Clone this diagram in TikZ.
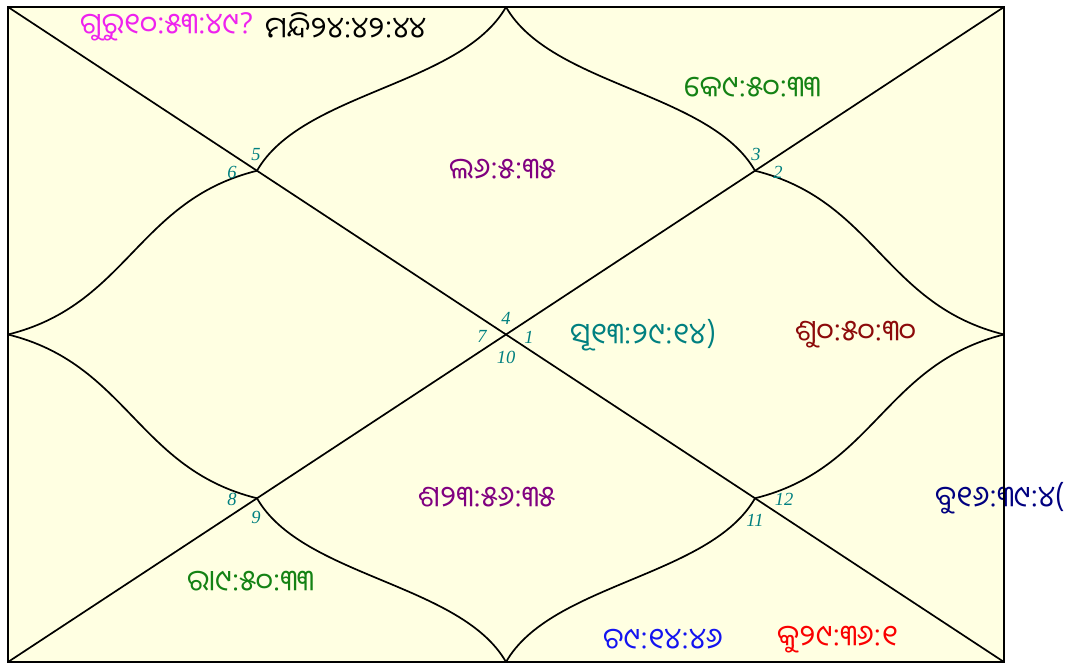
\documentclass[tikz,border=0pt]{standalone}
\usepackage{fontspec}
\usetikzlibrary{calc}
\newfontfamily\od[Script=Oriya]{Noto Sans Oriya UI}
\newfontfamily\hn{Liberation Serif}
\definecolor{cream}{RGB}{255,255,226}
\definecolor{cGuru}{RGB}{238,34,238}
\definecolor{cGreen}{RGB}{20,130,20}
\definecolor{cPurple}{RGB}{128,0,128}
\definecolor{cTeal}{RGB}{0,128,128}
\definecolor{cMaroon}{RGB}{140,10,10}
\definecolor{cNavy}{RGB}{0,0,128}
\definecolor{cBlue}{RGB}{20,20,240}
\definecolor{cRed}{RGB}{250,0,0}
\tikzset{
  pl/.style={anchor=west,inner sep=0pt,font=\od\fontsize{29.3}{33}\selectfont},
  hnum/.style={inner sep=0pt,text=cTeal,font=\hn\itshape\fontsize{18.5}{21}\selectfont},
  edge/.style={line width=1.7pt,black},
  curv/.style={line width=1.7pt,black},
}
\begin{document}
\begin{tikzpicture}[x=1pt,y=-1pt]
\useasboundingbox (0,0) rectangle (1076,664);
\coordinate (TL) at (8,7);
\coordinate (TR) at (1004,7);
\coordinate (BL) at (8,662);
\coordinate (BR) at (1004,662);
\coordinate (Tm) at (506,7);
\coordinate (Bm) at (506,662);
\coordinate (Lm) at (8,334.5);
\coordinate (Rm) at (1004,334.5);
\coordinate (Q1) at (257,170.75);
\coordinate (Q2) at (755,170.75);
\coordinate (Q3) at (257,498.25);
\coordinate (Q4) at (755,498.25);
\fill[cream] (TL) rectangle (BR);
\draw[edge] (TL) -- (BR);
\draw[edge] (BL) -- (TR);
% top/bottom curves
\draw[curv] (Tm) .. controls ($(Tm)+(-44.8,78.6)$) and ($(Q1)-(-44.8,78.6)$) .. (Q1);
\draw[curv] (Tm) .. controls ($(Tm)+(44.8,78.6)$) and ($(Q2)-(44.8,78.6)$) .. (Q2);
\draw[curv] (Bm) .. controls ($(Bm)+(-44.8,-78.6)$) and ($(Q3)-(-44.8,-78.6)$) .. (Q3);
\draw[curv] (Bm) .. controls ($(Bm)+(44.8,-78.6)$) and ($(Q4)-(44.8,-78.6)$) .. (Q4);
% side curves
\draw[curv] (Lm) .. controls ($(Lm)+(119.5,-29.5)$) and ($(Q1)-(119.5,-29.5)$) .. (Q1);
\draw[curv] (Lm) .. controls ($(Lm)+(119.5,29.5)$) and ($(Q3)-(119.5,29.5)$) .. (Q3);
\draw[curv] (Rm) .. controls ($(Rm)+(-119.5,-29.5)$) and ($(Q2)-(-119.5,-29.5)$) .. (Q2);
\draw[curv] (Rm) .. controls ($(Rm)+(-119.5,29.5)$) and ($(Q4)-(-119.5,29.5)$) .. (Q4);
% planets
\node[pl,text=cGuru] (gu) at (80,27) {ଗୁରୁ୧୦:୫୩:୪୯?};
\node[pl,text=black] (ma) at (265,27) {ମନ୍ଦି୨୪:୪୨:୪୪};
\node[pl,text=cGreen] (ke) at (684,88) {କେ୯:୫୦:୩୩};
\node[pl,text=cPurple] (la) at (449,170) {ଲ୬:୫:୩୫};
\node[pl,text=cTeal] (su) at (570,335) {ସୂ୧୩:୨୯:୧୪)};
\node[pl,text=cMaroon] (sk) at (795,335) {ଶୁ୦:୫୦:୩୦};
\node[pl,text=cPurple] (sa) at (418,498) {ଶ୨୩:୫୬:୩୫};
\node[pl,text=cNavy] (bu) at (935,498) {ବୁ୧୬:୩୯:୪(};
\node[pl,text=cGreen] (ra) at (187,582) {ରା୯:୫୦:୩୩};
\node[pl,text=cBlue] (ch) at (603,640) {ଚ୯:୧୪:୪୬};
\node[pl,text=cRed] (ku) at (777,640) {କୁ୨୯:୩୬:୧};
\draw[line width=2pt] (TL) rectangle (BR);
% house numbers
\node[hnum] (h4) at (506,318) {4};
\node[hnum] (h7) at (482,336) {7};
\node[hnum] (h1) at (529,337) {1};
\node[hnum] (h10) at (506,357) {10};
\node[hnum] (h5) at (256,155) {5};
\node[hnum] (h6) at (232,172) {6};
\node[hnum] (h3) at (756,154) {3};
\node[hnum] (h2) at (778,172) {2};
\node[hnum] (h8) at (232,499) {8};
\node[hnum] (h9) at (256,517) {9};
\node[hnum] (h12) at (784,499) {12};
\node[hnum] (h11) at (755,520) {11};
\end{tikzpicture}
\end{document}
